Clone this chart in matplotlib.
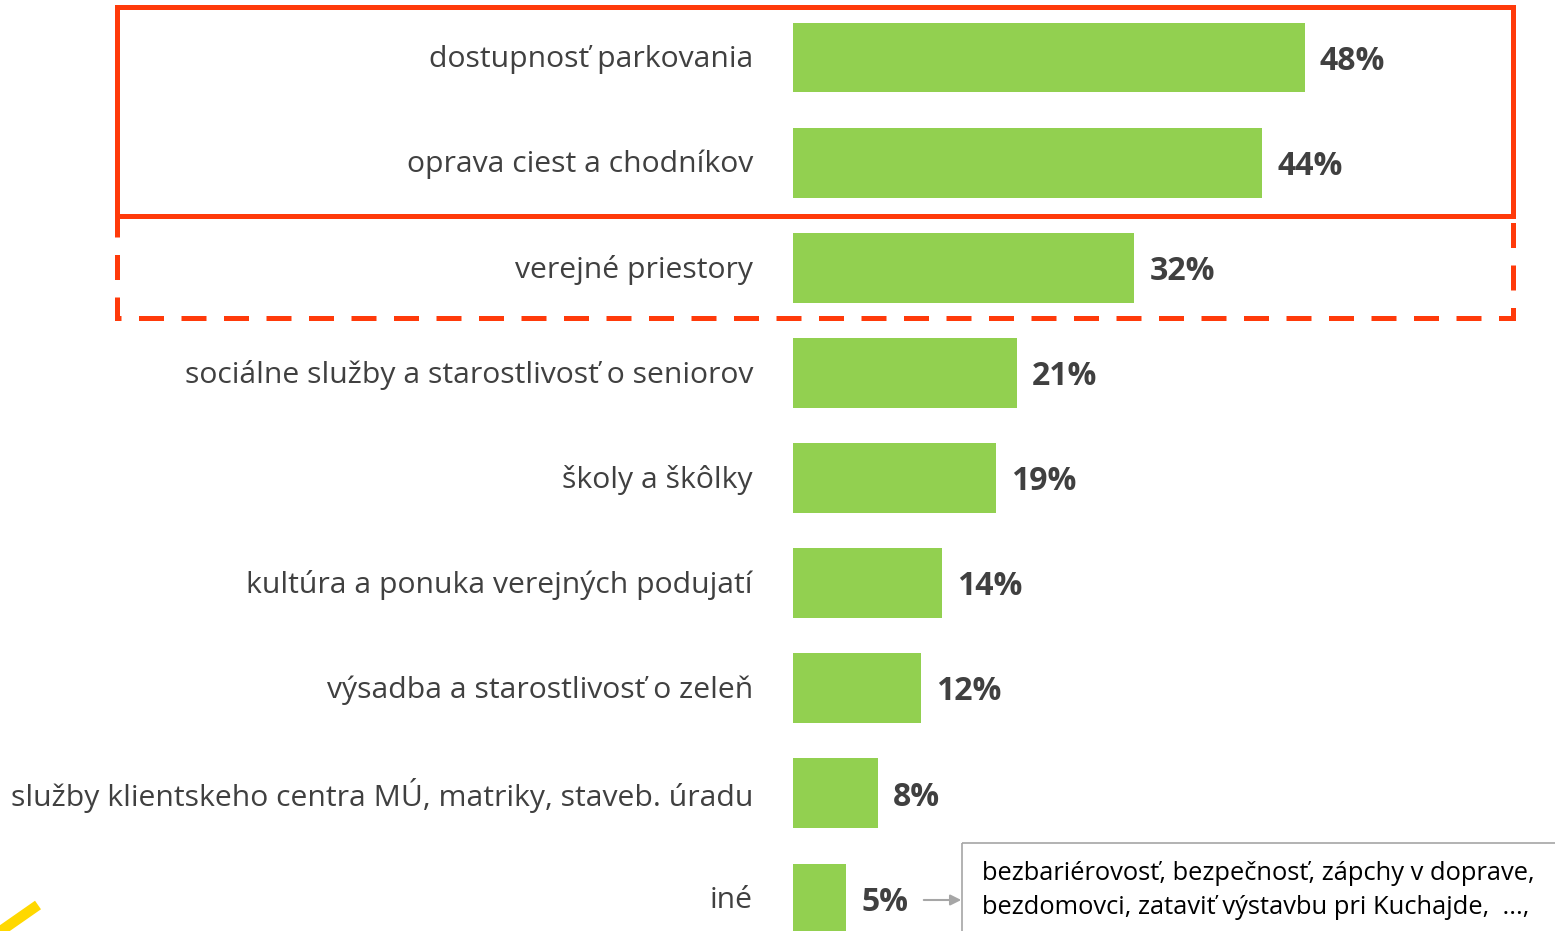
import matplotlib
matplotlib.use("Agg")
import matplotlib.pyplot as plt
from matplotlib.patches import Rectangle

categories = [
    "dostupnosť parkovania",
    "oprava ciest a chodníkov",
    "verejné priestory",
    "sociálne služby a starostlivosť o seniorov",
    "školy a škôlky",
    "kultúra a ponuka verejných podujatí",
    "výsadba a starostlivosť o zeleň",
    "služby klientskeho centra MÚ, matriky, staveb. úradu",
    "iné",
]
values = [48, 44, 32, 21, 19, 14, 12, 8, 5]
value_labels = [f"{v}%" for v in values]
note_lines = [
    "bezbariérovosť, bezpečnosť, zápchy v doprave,",
    "bezdomovci, zataviť výstavbu pri Kuchajde,  ...,",
]

W, H = 1555, 931
fig = plt.figure(figsize=(W / 100, H / 100), dpi=100)
fig.patch.set_facecolor("white")

FONT = ["Open Sans", "DejaVu Sans"]
GREEN = "#92D050"
TXT = "#404040"
RED = "#FF3A0A"

# bar axes: x from pixel 793 to right edge
x0 = 793
ppu = 512 / 48.0
ax = fig.add_axes([x0 / W, 0, 1 - x0 / W, 1])
ax.set_xlim(0, (W - x0) / ppu)
pitch = 105.125
c0 = 57.5
ax.set_ylim((H - c0) / pitch, -c0 / pitch)
ax.axis("off")
ypos = list(range(len(values)))
ax.barh(ypos, values, height=0.665, color=GREEN, edgecolor="none")
for y, v, lab in zip(ypos, values, value_labels):
    ax.text(v + 15 / ppu, y + 0.035, lab, ha="left", va="center",
            fontsize=23, fontweight="bold", color=TXT, family=FONT)
for y, c in zip(ypos, categories):
    ax.text(-40 / ppu, y + 0.02, c, ha="right", va="center", fontsize=21.7,
            color=TXT, family=FONT, clip_on=False)

# overlay in pixel coordinates
ov = fig.add_axes([0, 0, 1, 1], facecolor="none")
ov.set_xlim(0, W)
ov.set_ylim(H, 0)
ov.axis("off")
ov.add_patch(Rectangle((117, 216), 1396, 102, fill=False, edgecolor=RED,
                       lw=3.6, linestyle=(0, (5, 3.5))))
ov.add_patch(Rectangle((117, 7), 1396, 209, fill=False, edgecolor=RED, lw=3.6))
ov.add_patch(Rectangle((962, 843), 620, 120, fill=False, edgecolor="#A6A6A6",
                       lw=1.2, clip_on=True))
ov.annotate("", xy=(964, 900), xytext=(921, 900),
            arrowprops=dict(arrowstyle="-|>", color="#A6A6A6", lw=1.5,
                            mutation_scale=16))
ov.text(982, 873, note_lines[0], ha="left", va="center", fontsize=18.4,
        color="black", family=FONT)
ov.text(982, 908, note_lines[1], ha="left", va="center", fontsize=18.4,
        color="black", family=FONT)
ov.plot([-5, 38], [935, 905], color="#FFD800", lw=7.5, solid_capstyle="butt")

fig.savefig("out.png", dpi=100, facecolor="white")
